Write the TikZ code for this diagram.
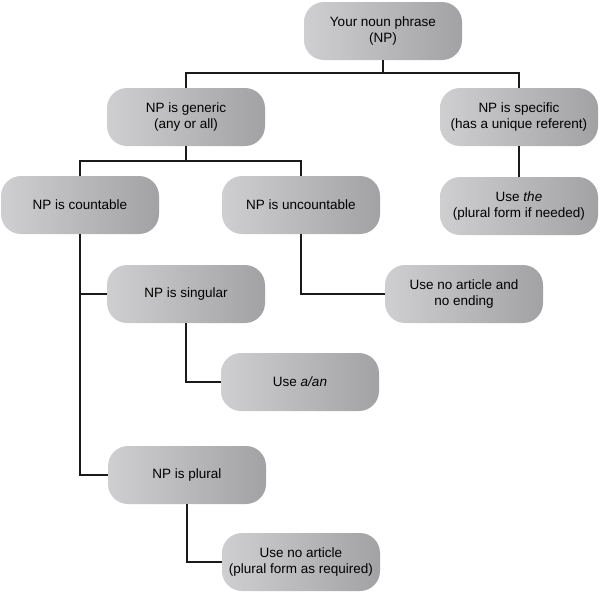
\documentclass[tikz,border=0pt]{standalone}
\usepackage{fontspec}
\setmainfont{Liberation Sans}
\usepackage{tikz}
\usetikzlibrary{arrows.meta, positioning, calc}
\definecolor{BoxLight}{HTML}{CFCFD1}
\definecolor{BoxDark}{HTML}{A2A2A4}
\definecolor{LinkInk}{HTML}{1A1A1A}

\begin{document}
\begin{tikzpicture}[
    font=\fontsize{9.6}{11.5}\selectfont,
    every node/.style={align=center},
    choice/.style={
      rounded corners=0.5cm, shading=axis,
      left color=BoxLight, right color=BoxDark,
      minimum width=3.95cm, minimum height=1.45cm,
      inner sep=2pt, text=black,
    },
    link/.style={
      draw=LinkInk, line width=0.8pt,
    },
  ]
    \useasboundingbox (0,0) rectangle (15,-14.825);

    \node[choice] (root) at (9.575,-0.775)
      {Your noun phrase\\(NP)};

    \node[choice] (generic) at (4.65,-2.925)
      {NP is generic\\(any or all)};
    \node[choice] (specific) at (12.975,-2.925)
      {NP is specific\\(has a unique referent)};

    \node[choice] (countable) at (2.0,-5.125) {NP is countable};
    \node[choice] (uncountable) at (7.525,-5.125) {NP is uncountable};
    \node[choice] (usethe) at (12.975,-5.15)
      {Use \textit{the}\\(plural form if needed)};

    \node[choice] (singular) at (4.65,-7.35) {NP is singular};
    \node[choice] (noending) at (11.6,-7.35)
      {Use no article and\\no ending};

    \node[choice] (useaan) at (7.5,-9.55) {Use \textit{a/an}};

    \node[choice] (plural) at (4.675,-11.875) {NP is plural};
    \node[choice] (noarticle) at (7.525,-14.05)
      {Use no article\\(plural form as required)};

    \coordinate (bus1) at (9.575,-1.825);
    \draw[link] (root.south) -- (bus1);
    \draw[link] (bus1) -| (generic.north);
    \draw[link] (bus1) -| (specific.north);

    \coordinate (bus2) at (4.65,-4.025);
    \draw[link] (generic.south) -- (bus2);
    \draw[link] (bus2) -| (countable.north);
    \draw[link] (bus2) -| (uncountable.north);

    \draw[link] (specific.south) -- (usethe.north);

    \draw[link] (countable.south) |- (singular.west);
    \draw[link] (countable.south) |- (plural.west);
    \draw[link] (uncountable.south) |- (noending.west);
    \draw[link] (singular.south) |- (useaan.west);
    \draw[link] (plural.south) |- (noarticle.west);
  \end{tikzpicture}
\end{document}
